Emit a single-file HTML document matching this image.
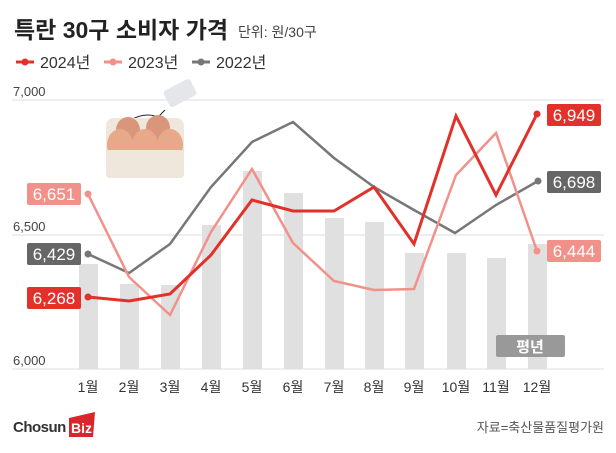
<!DOCTYPE html><html><head><meta charset="utf-8"><style>
body{margin:0;width:616px;height:448px;background:#fff;overflow:hidden;font-family:"Liberation Sans","Noto Sans CJK KR",sans-serif}
</style></head><body>
<svg width="616" height="448" xmlns="http://www.w3.org/2000/svg" font-family="Liberation Sans, Noto Sans CJK KR, sans-serif">
<text x="14" y="38" font-size="23" font-weight="bold" fill="#222">특란 30구 소비자 가격</text>
<text x="238" y="37" font-size="14" fill="#444">단위: 원/30구</text>
<line x1="16" y1="62" x2="34" y2="62" stroke="#e2302a" stroke-width="3"/><circle cx="25" cy="62" r="3.5" fill="#e2302a"/>
<text x="40" y="68" font-size="16" fill="#333">2024년</text>
<line x1="104" y1="62" x2="122" y2="62" stroke="#f29189" stroke-width="3"/><circle cx="113" cy="62" r="3.5" fill="#f29189"/>
<text x="128" y="68" font-size="16" fill="#333">2023년</text>
<line x1="192" y1="62" x2="210" y2="62" stroke="#777" stroke-width="3"/><circle cx="201" cy="62" r="3.5" fill="#777"/>
<text x="216" y="68" font-size="16" fill="#333">2022년</text>
<line x1="12" y1="100" x2="604" y2="100" stroke="#ddd"/>
<line x1="12" y1="235" x2="604" y2="235" stroke="#ddd"/>
<line x1="12" y1="369" x2="604" y2="369" stroke="#ddd"/>
<text x="13" y="96" font-size="13" fill="#444">7,000</text>
<text x="13" y="231" font-size="13" fill="#444">6,500</text>
<text x="13" y="365" font-size="13" fill="#444">6,000</text>
<g fill="#e0e0e0">
<rect x="79" y="264" width="19" height="105"/><rect x="120" y="284" width="19" height="85"/><rect x="161" y="285" width="19" height="84"/><rect x="202" y="225" width="19" height="144"/><rect x="243" y="171" width="19" height="198"/><rect x="284" y="193" width="19" height="176"/><rect x="325" y="218" width="19" height="151"/><rect x="365" y="222" width="19" height="147"/><rect x="405" y="253" width="19" height="116"/><rect x="447" y="253" width="19" height="116"/><rect x="487" y="258" width="19" height="111"/><rect x="528" y="244" width="19" height="125"/>
</g>
<!-- egg -->
<rect x="165" y="84" width="30" height="18" rx="3" fill="#e4e6ea" transform="rotate(-28 180 93)"/>
<path d="M125 123 Q145 110 160 118 Q150 125 165 110" stroke="#222" fill="none" stroke-width="1"/>
<rect x="106" y="118" width="78" height="60" rx="8" fill="#efe6dc"/>
<ellipse cx="128" cy="130" rx="12" ry="13" fill="#d9967a"/><ellipse cx="158" cy="128" rx="12" ry="13" fill="#d9967a"/>
<ellipse cx="120" cy="145" rx="13" ry="16" fill="#e8a88a"/><ellipse cx="145" cy="145" rx="13" ry="16" fill="#e8a88a"/><ellipse cx="170" cy="145" rx="13" ry="16" fill="#e8a88a"/>
<rect x="106" y="150" width="78" height="28" rx="4" fill="#efe6dc"/>
<polyline fill="none" stroke="#777" stroke-width="2.5" points="88,254 129,273 170,244 211,187 252,142 293,122 334,158 374,187 414,210 455,233 496,205 538,181"/>
<polyline fill="none" stroke="#f29189" stroke-width="2.5" points="88,194 129,277 170,315 211,232 252,169 293,243 334,281 374,290 414,289 456,175 496,133 537,251"/>
<polyline fill="none" stroke="#e2302a" stroke-width="3" points="88,297 129,301 170,294 211,255 252,200 293,211 334,211 374,187 414,244 456,116 496,195 537,114"/>
<circle cx="88" cy="194" r="3.5" fill="#f29189"/><circle cx="88" cy="254" r="3.5" fill="#777"/><circle cx="88" cy="297" r="3.5" fill="#e2302a"/>
<circle cx="537" cy="114" r="3.5" fill="#e2302a"/><circle cx="538" cy="181" r="3.5" fill="#777"/><circle cx="537" cy="251" r="3.5" fill="#f29189"/>
<g font-size="17" fill="#fff" text-anchor="middle">
<rect x="27" y="183" width="54" height="22" rx="2" fill="#f29189"/><text x="54" y="200">6,651</text>
<rect x="27" y="243" width="54" height="22" rx="2" fill="#666"/><text x="54" y="260">6,429</text>
<rect x="27" y="287" width="54" height="22" rx="2" fill="#e2302a"/><text x="54" y="304">6,268</text>
<rect x="547" y="104" width="54" height="22" rx="2" fill="#e2302a"/><text x="574" y="121">6,949</text>
<rect x="547" y="171" width="54" height="22" rx="2" fill="#666"/><text x="574" y="188">6,698</text>
<rect x="547" y="240" width="54" height="22" rx="2" fill="#f29189"/><text x="574" y="257">6,444</text>
<rect x="496" y="335" width="69" height="22" rx="2" fill="#999"/><text x="530" y="352" font-size="15" font-weight="bold">평년</text>
</g>
<g font-size="14" fill="#333" text-anchor="middle">
<text x="88" y="392">1월</text><text x="129" y="392">2월</text><text x="170" y="392">3월</text><text x="211" y="392">4월</text><text x="252" y="392">5월</text><text x="293" y="392">6월</text><text x="334" y="392">7월</text><text x="374" y="392">8월</text><text x="414" y="392">9월</text><text x="456" y="392">10월</text><text x="496" y="392">11월</text><text x="537" y="392">12월</text>
</g>
<text x="13" y="432" font-size="15" font-weight="bold" fill="#333" letter-spacing="-0.5">Chosun</text>
<polygon points="69,418 95,412 93,437 69,437" fill="#d8262b"/>
<text x="71" y="433" font-size="14" font-weight="bold" fill="#fff">Biz</text>
<text x="604" y="432" font-size="13" fill="#555" text-anchor="end">자료=축산물품질평가원</text>
</svg>
</body></html>
